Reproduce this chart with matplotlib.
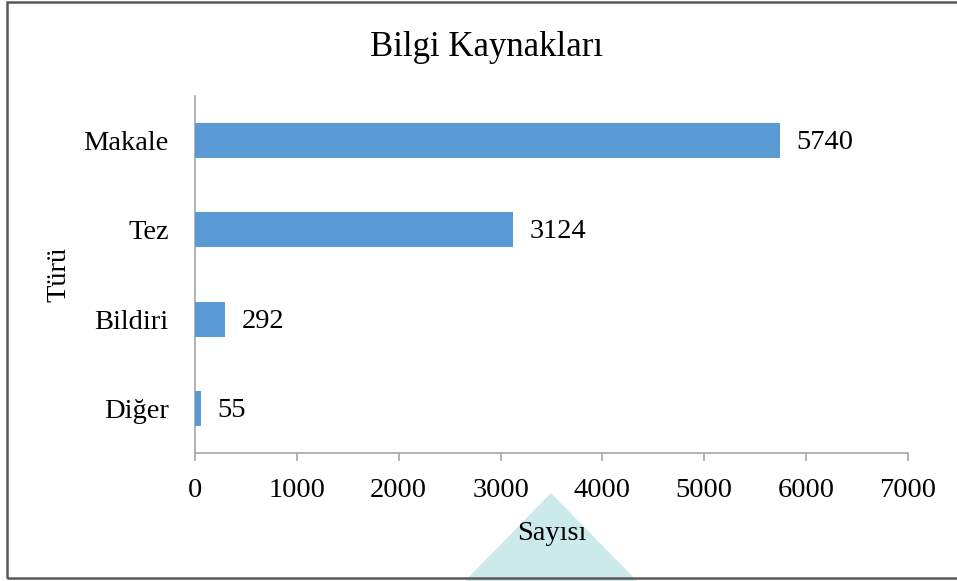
import matplotlib
matplotlib.use("Agg")
import matplotlib.pyplot as plt
from matplotlib.patches import Polygon, Rectangle

categories = ["Makale", "Tez", "Bildiri", "Diğer"]
values = [5740, 3124, 292, 55]
xticks = [0, 1000, 2000, 3000, 4000, 5000, 6000, 7000]

W, H = 957, 581
plt.rcParams['font.family'] = ['Liberation Serif', 'DejaVu Serif']
fig = plt.figure(figsize=(W / 100, H / 100), dpi=100)

def fx(px):
    return px / W

def fy(py):
    return 1 - py / H

ax = fig.add_axes([fx(195), fy(453), fx(908) - fx(195), fy(96) - fy(453)])

bar_color = "#5B9BD5"
axis_color = "#A6A6A6"
ypos = list(range(len(categories)))
ax.barh(ypos, values, height=0.39, color=bar_color, zorder=3)
ax.set_ylim(len(categories) - 0.5, -0.5)
ax.set_xlim(0, 7000)
ax.set_yticks(ypos)
ax.set_yticklabels(categories)
ax.set_xticks(xticks)
ax.set_xticklabels([str(t) for t in xticks])

for y, v in zip(ypos, values):
    ax.annotate(str(v), (v, y), xytext=(12, -1.5), textcoords="offset points",
                va="center", ha="left", fontsize=20.5, color="black")

for s in ["top", "right"]:
    ax.spines[s].set_visible(False)
for s in ["left", "bottom"]:
    ax.spines[s].set_color(axis_color)
    ax.spines[s].set_linewidth(1.2)

ax.tick_params(axis="y", length=0, pad=19, labelsize=20.5, colors="black")
ax.tick_params(axis="x", length=6, width=1.2, color=axis_color, pad=12,
               labelsize=20.5, labelcolor="black")

ax.set_xlabel("Sayısı", fontsize=20.5, labelpad=13)
ax.set_ylabel("Türü", fontsize=20.5, labelpad=8.6)

fig.text(fx(487), fy(48), "Bilgi Kaynakları", ha="center", va="center", fontsize=25)

# decorative triangle and chart border
tri = Polygon([[fx(551), fy(493)], [fx(463), fy(583)], [fx(639), fy(583)]],
              closed=True, transform=fig.transFigure, facecolor="#CDEAEA",
              edgecolor="none", zorder=-1)
fig.patches.append(tri)
border = Rectangle((fx(7), fy(577.5)), fx(980) - fx(7), fy(2) - fy(577.5),
                   transform=fig.transFigure, fill=False, edgecolor="#595959",
                   linewidth=1.8, zorder=10)
fig.patches.append(border)

fig.savefig("out.png", dpi=100)
